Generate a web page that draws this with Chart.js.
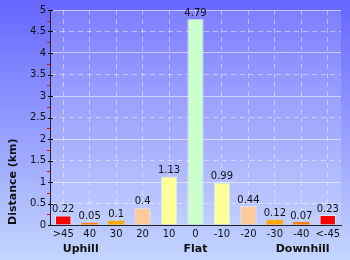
<!DOCTYPE html>
<html>
<head>
<meta charset="utf-8">
<script src="https://cdn.jsdelivr.net/npm/chart.js@4.4.0/dist/chart.umd.min.js"></script>
<style>
  html, body { margin: 0; padding: 0; background: #8a8aff; }
  #wrap { width: 350px; height: 260px; }
</style>
</head>
<body>
<div id="wrap"><canvas id="myChart" width="350" height="260"></canvas></div>
<script>
const gradeLabels = [">45", "40", "30", "20", "10", "0", "-10", "-20", "-30", "-40", "<-45"];
const distances = [0.22, 0.05, 0.1, 0.4, 1.13, 4.79, 0.99, 0.44, 0.12, 0.07, 0.23];
const barColors = ["#ff0000", "#ff8000", "#ffaa00", "#ffcc99", "#ffff99", "#ccffcc",
                   "#ffff99", "#ffcc99", "#ffaa00", "#ff8000", "#ff0000"];
const groupNames = ["Uphill", "Flat", "Downhill"];
const groupAt = [0.66, 5, 9.05];
const yTicks = [0, 0.5, 1, 1.5, 2, 2.5, 3, 3.5, 4, 4.5, 5];

const FONT = "'DejaVu Sans', sans-serif";

// background gradient + lighter plot area
const backdrop = {
  id: 'backdrop',
  beforeDraw(chart) {
    const ctx = chart.ctx;
    const a = chart.chartArea;
    const g = ctx.createLinearGradient(0, 0, 0, chart.height);
    g.addColorStop(0, '#6666ff');
    g.addColorStop(1, '#c4d6ff');
    ctx.save();
    ctx.fillStyle = g;
    ctx.fillRect(0, 0, chart.width, chart.height);
    ctx.fillStyle = 'rgba(255,255,255,0.14)';
    ctx.fillRect(a.left, a.top, a.right - a.left, a.bottom - a.top);
    ctx.restore();
  }
};

// y tick marks (black major, red minor), value labels, group names
const extras = {
  id: 'extras',
  afterDraw(chart) {
    const ctx = chart.ctx;
    const y = chart.scales.y;
    const x = chart.scales.x;
    const left = Math.round(chart.chartArea.left);
    ctx.save();
    for (let i = 0; i < yTicks.length; i++) {
      const py = Math.round(y.getPixelForValue(yTicks[i]));
      ctx.fillStyle = '#000';
      ctx.fillRect(left - 2, py, 5, 1);
      if (i < yTicks.length - 1) {
        const my = Math.round(y.getPixelForValue(yTicks[i] + 0.25));
        ctx.fillStyle = '#ff0000';
        ctx.fillRect(left - 3, my, 3, 1);
      }
    }

    ctx.fillStyle = '#111';
    ctx.font = "10px " + FONT;
    ctx.textAlign = 'center';
    ctx.textBaseline = 'bottom';
    const meta = chart.getDatasetMeta(0);
    meta.data.forEach((bar, i) => {
      ctx.fillText(String(distances[i]), bar.x, bar.y - 1);
    });

    ctx.font = "bold 11px " + FONT;
    ctx.textBaseline = 'middle';
    groupNames.forEach((name, i) => {
      ctx.fillText(name, x.getPixelForValue(groupAt[i]), 249);
    });
    ctx.restore();
  }
};

const ctx = document.getElementById('myChart').getContext('2d');
const myChart = new Chart(ctx, {
  type: 'bar',
  data: {
    labels: gradeLabels,
    datasets: [{
      label: 'Distance',
      data: distances,
      backgroundColor: barColors,
      borderColor: 'rgba(255,255,255,0.5)',
      borderWidth: (c) => (c.raw !== undefined && c.raw < 0.15) ? 0 : 1,
      borderSkipped: 'bottom',
      categoryPercentage: 1,
      barPercentage: 0.62
    }]
  },
  options: {
    responsive: false,
    animation: false,
    layout: { padding: { left: 0, right: 9, top: 10, bottom: 0 } },
    plugins: { legend: { display: false }, tooltip: { enabled: false } },
    scales: {
      x: {
        afterFit: (scale) => { scale.height = 35; },
        grid: {
          offset: false,
          drawTicks: false,
          color: 'rgba(255,255,255,0.45)',
          lineWidth: 1
        },
        border: {
          color: '#222',
          width: 1,
          dash: (c) => c.type === 'tick' ? [5, 4] : []
        },
        ticks: {
          color: '#111',
          font: { family: FONT, size: 10 },
          padding: 3,
          maxRotation: 0,
          autoSkip: false
        }
      },
      y: {
        min: 0,
        max: 5,
        afterFit: (scale) => { scale.width = 50; },
        afterBuildTicks: (scale) => { scale.ticks = yTicks.map(v => ({ value: v })); },
        grid: {
          drawTicks: false,
          color: (c) => Number.isInteger(c.tick && c.tick.value) ? 'rgba(255,255,255,0.55)' : 'rgba(255,255,255,0.45)',
          lineWidth: 1
        },
        border: {
          color: '#222',
          width: 1,
          dash: (c) => (c.type === 'tick' && !Number.isInteger(c.tick.value)) ? [5, 4] : []
        },
        ticks: {
          color: '#111',
          font: { family: FONT, size: 10 },
          padding: 4,
          callback: (v) => String(v)
        },
        title: {
          display: true,
          text: 'Distance (km)',
          align: 'start',
          color: '#111',
          font: { family: FONT, size: 11, weight: 'bold' },
          padding: { top: 7, bottom: 0 }
        }
      }
    }
  },
  plugins: [backdrop, extras]
});
</script>
</body>
</html>
